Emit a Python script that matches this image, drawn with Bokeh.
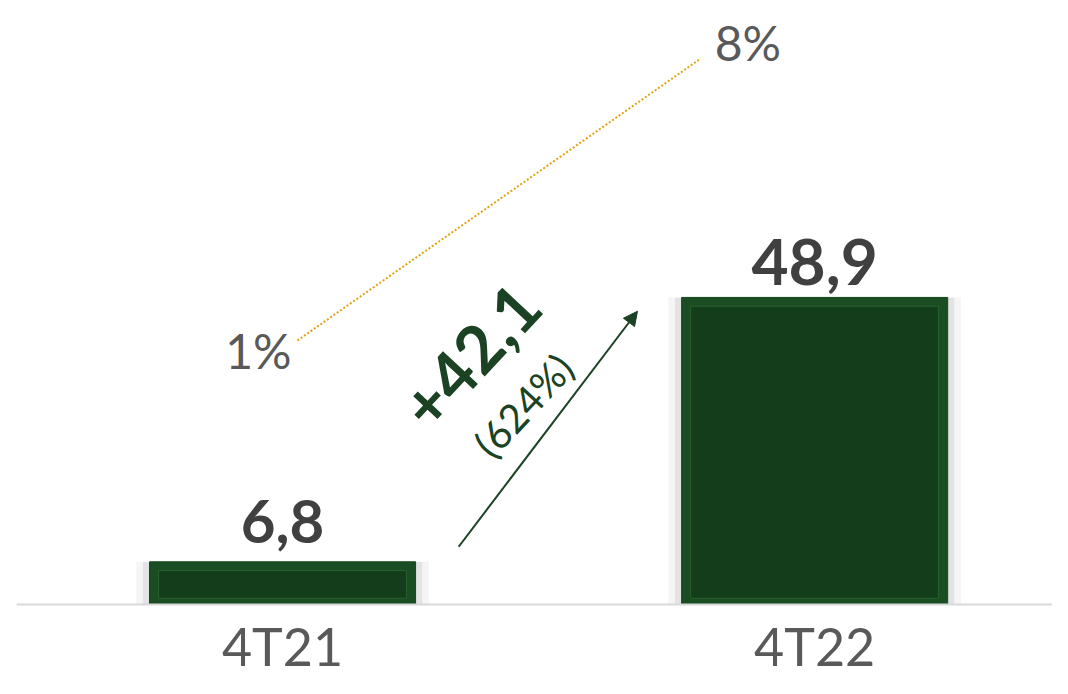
from bokeh.plotting import figure
from bokeh.models import (ColumnDataSource, Range1d, LinearAxis, FixedTicker,
                          Arrow, NormalHead)
from bokeh.core.properties import value
from bokeh.embed import file_html
from bokeh.resources import INLINE

# ---------------- data ----------------
categories = ["4T21", "4T22"]
amounts = [6.8, 48.9]
amount_labels = ["6,8", "48,9"]
margins_pct = [1, 8]
margin_labels = ["1%", "8%"]
delta_label = "+42,1"
delta_pct_label = "(624%)"

# ---------------- styles ----------------
GREEN_EDGE = "#1a4d24"
GREEN_INNER = "#143d1b"
DARK_TEXT = "#404040"
GRAY_TEXT = "#595959"
GOLD = "#e3a214"
FONT = "Lato"

xs = list(range(len(categories)))

p = figure(width=1052, height=678, output_backend="svg", toolbar_location=None,
           x_range=Range1d(-0.5, 1.447), y_range=Range1d(-11.78, 96.18),
           min_border_left=16, min_border_right=0, min_border_top=0,
           min_border_bottom=0, outline_line_color=None,
           background_fill_color="white", border_fill_color="white")
p.grid.visible = False
p.yaxis.visible = False
p.xaxis.visible = False

# x axis with category labels, pinned at zero
ax = LinearAxis(ticker=FixedTicker(ticks=xs), fixed_location=0,
                major_label_overrides={i: c for i, c in zip(xs, categories)})
ax.axis_line_color = "#d9d9d9"
ax.axis_line_width = 2
ax.major_tick_line_color = None
ax.minor_tick_line_color = None
ax.major_label_text_font = FONT
ax.major_label_text_font_size = "52px"
ax.major_label_text_color = GRAY_TEXT
ax.major_label_standoff = 4
p.add_layout(ax, "below")

# bars: shadow, outer, inner bevel
src = ColumnDataSource(dict(x=xs, top=amounts, label=amount_labels))
bw = 0.50
p.vbar(x="x", top="top", bottom=0, width=bw + 0.05, source=src,
       fill_color="#000000", fill_alpha=0.04, line_color=None)
p.vbar(x="x", top="top", bottom=0, width=bw + 0.025, source=src,
       fill_color="#000000", fill_alpha=0.07, line_color=None)
p.vbar(x="x", top="top", bottom=0, width=bw, source=src,
       fill_color=GREEN_EDGE, line_color="#17461f", line_width=1)
inner = ColumnDataSource(dict(x=xs, top=[a - 1.4 for a in amounts]))
p.vbar(x="x", top="top", bottom=1.0, width=bw - 0.034, source=inner,
       fill_color=GREEN_INNER, line_color="#29602f", line_width=1)

# value labels
for i in xs:
    p.text(x=[xs[i]], y=[amounts[i]], text=[amount_labels[i]],
           text_font=value(FONT), text_font_style="bold",
           text_font_size=["60px", "64px"][i], text_color=DARK_TEXT,
           text_align="center", text_baseline="alphabetic",
           y_offset=[-40, -35][i])

# margin line on its own scale
p.extra_y_ranges = {"pct": Range1d(-7.39, 9.44)}
line_x = [xs[0] + 0.028, xs[1] - 0.214]
p.line(x=line_x, y=margins_pct, y_range_name="pct", line_color=GOLD,
       line_width=2, line_dash="2 2")
p.text(x=[line_x[0]], y=[margins_pct[0]], text=[margin_labels[0]],
       y_range_name="pct", text_font=value(FONT), text_font_size="48px",
       text_color=GRAY_TEXT, text_align="right", text_baseline="middle",
       x_offset=-6, y_offset=10)
p.text(x=[line_x[1]], y=[margins_pct[1]], text=[margin_labels[1]],
       y_range_name="pct", text_font=value(FONT), text_font_size="48px",
       text_color=GRAY_TEXT, text_align="left", text_baseline="middle",
       x_offset=14, y_offset=-16)

# growth arrow and labels
AGREEN = "#1a4223"
p.add_layout(Arrow(x_start=0.331, y_start=9.2, x_end=0.667, y_end=46.7,
                   line_color=AGREEN, line_width=2,
                   end=NormalHead(size=14, fill_color=AGREEN,
                                  line_color=AGREEN)))
ang = 0.82
p.text(x=[0.353], y=[39.6], text=[delta_label], angle=ang,
       text_font=value(FONT), text_font_style="bold", text_font_size="66px",
       text_color=AGREEN, text_align="center", text_baseline="middle")
p.text(x=[0.453], y=[31.7], text=[delta_pct_label], angle=ang,
       text_font=value(FONT), text_font_size="40px",
       text_color=AGREEN, text_align="center", text_baseline="middle")

open("out.html", "w").write(file_html(p, INLINE))
